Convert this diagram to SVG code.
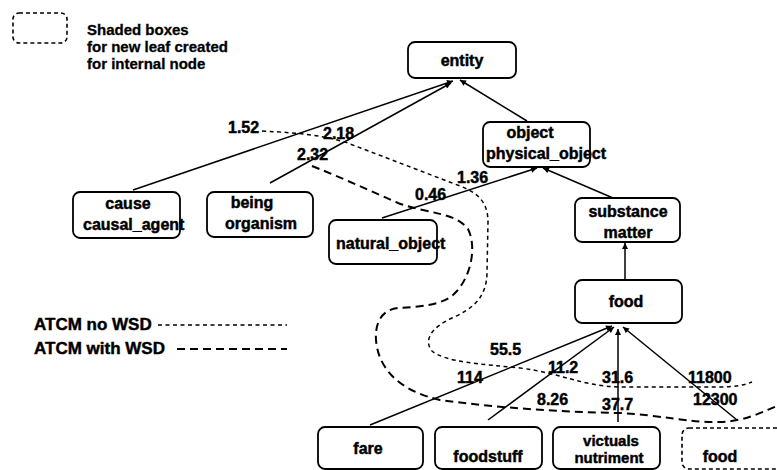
<svg xmlns="http://www.w3.org/2000/svg" width="777" height="470" viewBox="0 0 777 470">
  <style>
    .box { fill: #fff; stroke: #000; stroke-width: 1.8; }
    .newleaf { fill: #fff; stroke: #000; stroke-width: 1.6; stroke-dasharray: 4 3; }
    .t { font-family: "Liberation Sans", Arial, sans-serif; font-weight: bold; font-size: 16px; fill: #000; stroke: #000; stroke-width: 0.45; }
    .sm { font-size: 15px; }
    .legend { font-family: "Liberation Sans", Arial, sans-serif; font-weight: bold; font-size: 15px; fill: #000; stroke: #000; stroke-width: 0.3; }
    .key { font-size: 17px; }
    .edge { fill: none; stroke: #000; stroke-width: 1.5; }
    .nowsd { fill: none; stroke: #000; stroke-width: 1.5; stroke-dasharray: 4 3.5; }
    .wsd { fill: none; stroke: #000; stroke-width: 2; stroke-dasharray: 8 5; }
  </style>
  <defs>
    <marker id="arrow" viewBox="0 0 10 10" refX="10" refY="5" markerWidth="7" markerHeight="6" markerUnits="userSpaceOnUse" orient="auto">
      <path d="M0,0 L10,5 L0,10 z" fill="#000"/>
    </marker>
  </defs>
  <rect width="777" height="470" fill="#fff"/>

  <!-- legend -->
  <g id="legend">
    <rect x="13" y="13" width="54" height="30" rx="6" class="newleaf"/>
    <text class="legend" x="87" y="35">Shaded boxes</text>
    <text class="legend" x="87" y="52">for new leaf created</text>
    <text class="legend" x="87" y="69">for internal node</text>
    <text class="t key" x="34" y="330">ATCM no WSD</text>
    <line x1="158" y1="325" x2="287" y2="325" class="nowsd"/>
    <text class="t key" x="34" y="354">ATCM with WSD</text>
    <line x1="177" y1="349" x2="287" y2="349" class="wsd"/>
  </g>

  <!-- connectors -->
  <g id="connectors">
    <line x1="133" y1="190" x2="453" y2="81" class="edge" marker-end="url(#arrow)"/>
    <line x1="270" y1="183" x2="451" y2="83" class="edge" marker-end="url(#arrow)"/>
    <line x1="527" y1="121" x2="460" y2="80" class="edge" marker-end="url(#arrow)"/>
    <line x1="382" y1="218" x2="537" y2="168" class="edge" marker-end="url(#arrow)"/>
    <line x1="613" y1="198" x2="543" y2="168" class="edge" marker-end="url(#arrow)"/>
    <line x1="625" y1="280" x2="625" y2="243" class="edge" marker-end="url(#arrow)"/>
    <line x1="370" y1="425" x2="612" y2="326" class="edge" marker-end="url(#arrow)"/>
    <line x1="488" y1="420" x2="614" y2="327" class="edge" marker-end="url(#arrow)"/>
    <line x1="618" y1="422" x2="618" y2="329" class="edge" marker-end="url(#arrow)"/>
    <line x1="737" y1="420" x2="623" y2="327" class="edge" marker-end="url(#arrow)"/>

    <!-- cut curves -->
    <path class="nowsd" d="M262,131 C300,133 320,135 345,142 L460,186 C478,193 488,202 488,222 L487,272 C487,298 472,309 452,318 C432,327 423,340 432,351 C445,362 480,364 520,368 C560,373 582,386 620,387 L720,387 C735,387 745,385 752,382"/>
    <path class="wsd" d="M312,166 C330,173 360,186 398,203 C428,214 455,212 468,229 C477,247 471,276 456,292 C445,305 420,307 398,308 C380,310 375,325 376,340 C378,366 396,390 440,400 C500,408 560,412 620,413 C660,415 690,423 720,422 C745,421 760,413 777,406"/>

    <!-- edge weights -->
    <text class="t" x="228" y="133">1.52</text>
    <text class="t" x="323" y="139">2.18</text>
    <text class="t" x="297" y="160">2.32</text>
    <text class="t" x="457" y="183">1.36</text>
    <text class="t" x="415" y="200">0.46</text>
    <text class="t" x="490" y="355">55.5</text>
    <text class="t" x="457" y="383">114</text>
    <text class="t" x="548" y="373">11.2</text>
    <text class="t" x="537" y="405">8.26</text>
    <text class="t" x="602" y="383">31.6</text>
    <text class="t" x="602" y="410">37.7</text>
    <text class="t" x="688" y="383">11800</text>
    <text class="t" x="693" y="405">12300</text>
  </g>

  <!-- nodes -->
  <g id="entity">
    <rect x="408" y="42" width="108" height="36" rx="7" class="box"/>
    <text class="t" x="462" y="66" text-anchor="middle">entity</text>
  </g>
  <g id="object">
    <rect x="483" y="122" width="107" height="45" rx="7" class="box"/>
    <text class="t" x="530" y="138" text-anchor="middle">object</text>
    <text class="t" x="486" y="159">physical_object</text>
  </g>
  <g id="cause">
    <rect x="73" y="192" width="107" height="46" rx="7" class="box"/>
    <text class="t" x="128" y="209" text-anchor="middle">cause</text>
    <text class="t" x="83" y="230">causal_agent</text>
  </g>
  <g id="being">
    <rect x="207" y="192" width="106" height="45" rx="7" class="box"/>
    <text class="t" x="252" y="208" text-anchor="middle">being</text>
    <text class="t" x="261" y="229" text-anchor="middle">organism</text>
  </g>
  <g id="natural_object">
    <rect x="329" y="220" width="108" height="44" rx="7" class="box"/>
    <text class="t" x="336" y="249">natural_object</text>
  </g>
  <g id="substance">
    <rect x="575" y="198" width="105" height="44" rx="7" class="box"/>
    <text class="t" x="628" y="217" text-anchor="middle">substance</text>
    <text class="t" x="628" y="238" text-anchor="middle">matter</text>
  </g>
  <g id="food">
    <rect x="575" y="280" width="107" height="43" rx="7" class="box"/>
    <text class="t" x="626" y="307" text-anchor="middle">food</text>
  </g>
  <g id="fare">
    <rect x="318" y="427" width="105" height="42" rx="7" class="box"/>
    <text class="t" x="368" y="454" text-anchor="middle">fare</text>
  </g>
  <g id="foodstuff">
    <rect x="435" y="427" width="107" height="42" rx="7" class="box"/>
    <text class="t" x="488" y="462" text-anchor="middle">foodstuff</text>
  </g>
  <g id="victuals">
    <rect x="553" y="427" width="107" height="42" rx="7" class="box"/>
    <text class="t sm" x="611" y="446" text-anchor="middle">victuals</text>
    <text class="t sm" x="609" y="463" text-anchor="middle">nutriment</text>
  </g>
  <g id="food_leaf">
    <rect x="682" y="428" width="110" height="41" rx="7" class="newleaf"/>
    <text class="t" x="720" y="462" text-anchor="middle">food</text>
  </g>
</svg>
